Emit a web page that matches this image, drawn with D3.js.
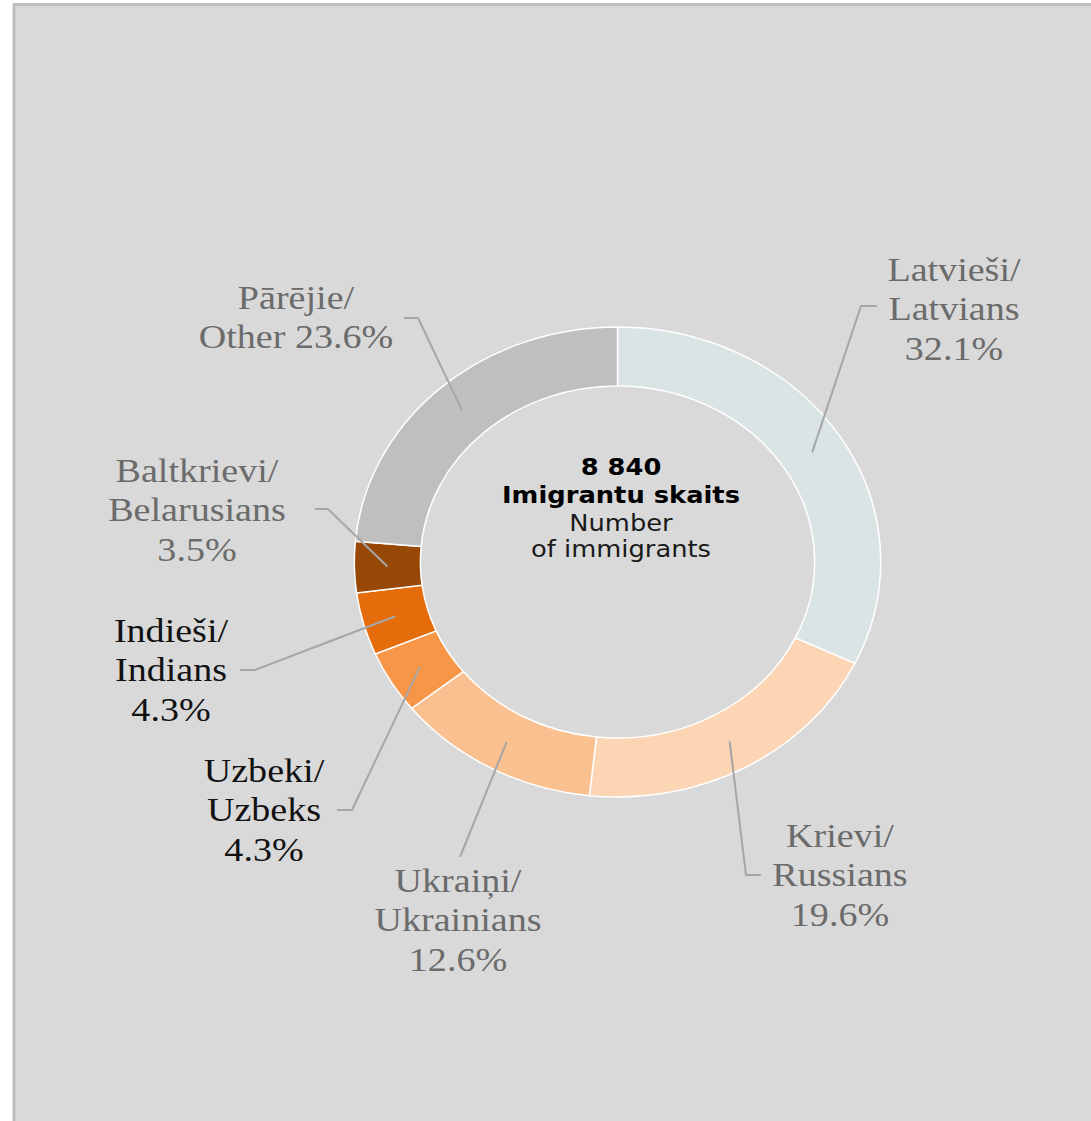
<!DOCTYPE html>
<html lang="lv">
<head>
<meta charset="utf-8">
<title>Imigranti pēc tautības</title>
<script src="https://cdn.jsdelivr.net/npm/d3@7"></script>
<style>
  body { margin: 0; background: #fff; }
</style>
</head>
<body>
<script>
// data
var groupsLv = ["Latvieši/", "Krievi/", "Ukraiņi/", "Uzbeki/", "Indieši/", "Baltkrievi/", "Pārējie/"];
var groupsEn = ["Latvians", "Russians", "Ukrainians", "Uzbeks", "Indians", "Belarusians", "Other"];
var shares = [32.1, 19.6, 12.6, 4.3, 4.3, 3.5, 23.6];
var totalLabel = "8 840";

var colors = ["#dbe4e4", "#fcd5b5", "#fac090", "#f79646", "#e46c0a", "#974806", "#bfbfbf"];
var labelColors = ["#6b6b6b", "#6b6b6b", "#6b6b6b", "#111", "#111", "#6b6b6b", "#6b6b6b"];

// label layout (screen px): text centre x, first baseline y, leader start + elbow
var labelPos = [
  {x: 954, y: 281, lx: 877, ly: 306, ex: 861},
  {x: 840, y: 847, lx: 761, ly: 875, ex: 746},
  {x: 458, y: 892, lx: 460, ly: 857, ex: 460},
  {x: 264, y: 782, lx: 337, ly: 810, ex: 352},
  {x: 171, y: 642, lx: 240, ly: 670, ex: 255},
  {x: 197, y: 482, lx: 315, ly: 509, ex: 328},
  {x: 296, y: 309, lx: 404, ly: 318, ex: 418}
];

var w = 1091, h = 1121;
var stretch = 1.12;        // picture is stretched sideways
var cx = 617.5, cy = 562;
var outerR = 235, innerR = 176;

var svg = d3.select("body").append("svg")
  .attr("width", w)
  .attr("height", h);

// frame
svg.append("rect")
  .attr("x", 14).attr("y", 4.5)
  .attr("width", w).attr("height", h)
  .attr("fill", "#d9d9d9")
  .attr("stroke", "#bfbfbf")
  .attr("stroke-width", 3);

var g = svg.append("g").attr("transform", "scale(" + stretch + ",1)");

var data = shares.map(function(v, i) { return {i: i, value: v}; });
var pie = d3.pie().sort(null).value(function(d) { return d.value; });
var arc = d3.arc().innerRadius(innerR).outerRadius(outerR);
var arcs = pie(data);

var donut = g.append("g").attr("transform", "translate(" + (cx / stretch) + "," + cy + ")");

donut.selectAll("path")
  .data(arcs)
  .enter()
  .append("path")
  .attr("d", arc)
  .attr("fill", function(d) { return colors[d.data.i]; })
  .attr("stroke", "#fff")
  .attr("stroke-width", 1.5)
  .attr("vector-effect", "non-scaling-stroke");

// leader lines
g.selectAll("polyline.leader")
  .data(arcs)
  .enter()
  .append("polyline")
  .attr("class", "leader")
  .attr("points", function(d) {
    var p = labelPos[d.data.i];
    var c = arc.centroid(d);
    var pts = [[p.lx / stretch, p.ly], [p.ex / stretch, p.ly], [cx / stretch + c[0], cy + c[1]]];
    return pts.map(function(q) { return q.join(","); }).join(" ");
  })
  .attr("fill", "none")
  .attr("stroke", "#a6a6a6")
  .attr("stroke-width", 2)
  .attr("vector-effect", "non-scaling-stroke");

// labels
var labels = g.selectAll("text.lab")
  .data(arcs)
  .enter()
  .append("text")
  .attr("class", "lab")
  .attr("text-anchor", "middle")
  .attr("font-family", "'Liberation Serif', 'Times New Roman', serif")
  .attr("font-size", "34px")
  .attr("fill", function(d) { return labelColors[d.data.i]; });

labels.each(function(d) {
  var i = d.data.i, p = labelPos[i];
  var pct = d3.format(".1f")(d.data.value) + "%";
  var lines = (i === 6)
    ? [groupsLv[i], groupsEn[i] + " " + pct]
    : [groupsLv[i], groupsEn[i], pct];
  d3.select(this).selectAll("tspan")
    .data(lines)
    .enter()
    .append("tspan")
    .attr("x", p.x / stretch)
    .attr("y", function(t, k) { return p.y + k * 39.5; })
    .text(function(t) { return t; });
});

// centre text
var centre = [
  {t: totalLabel, bold: true, y: 475},
  {t: "Imigrantu skaits", bold: true, y: 503},
  {t: "Number", bold: false, y: 531},
  {t: "of immigrants", bold: false, y: 557}
];
g.selectAll("text.centre")
  .data(centre)
  .enter()
  .append("text")
  .attr("class", "centre")
  .attr("x", 621 / stretch)
  .attr("y", function(d) { return d.y; })
  .attr("text-anchor", "middle")
  .attr("font-family", "'DejaVu Sans', Verdana, sans-serif")
  .attr("font-size", "23px")
  .attr("font-weight", function(d) { return d.bold ? "bold" : "normal"; })
  .attr("fill", function(d) { return d.bold ? "#000" : "#1a1a1a"; })
  .text(function(d) { return d.t; });
</script>
</body>
</html>
